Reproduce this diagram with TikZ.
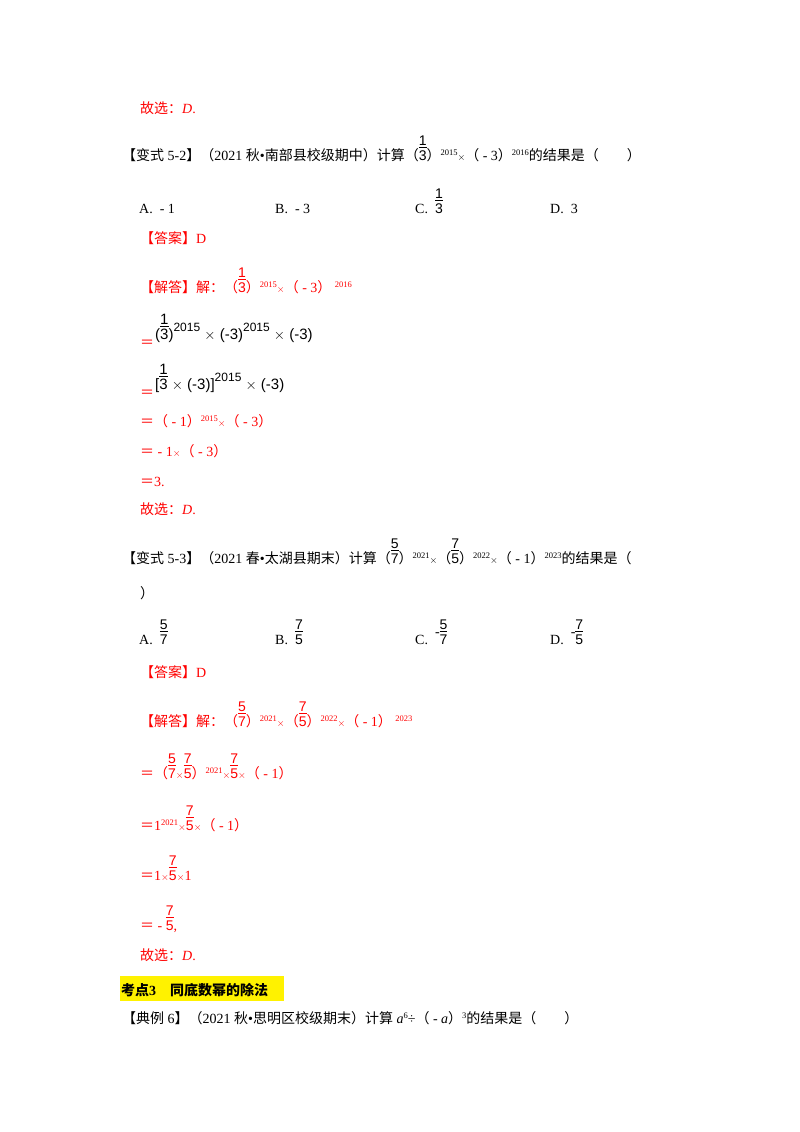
\documentclass[tikz,border=0pt]{standalone}
\usepackage{amsmath}
\usepackage{fontspec}
\setmainfont{Liberation Serif}
\newfontfamily\cjk{Noto Sans CJK SC}
\newfontfamily\ar{Liberation Sans}
\newcommand\C[1]{{\cjk #1}}
\newcommand\fr[2]{\begin{tabular}[b]{@{}c@{}}{\ar #1}\\[-3pt]\hline\noalign{\vskip1pt}{\ar #2}\end{tabular}}
\newcommand\su[1]{\raisebox{5pt}{\fontsize{8.5}{9}\selectfont #1}}
\newcommand\tm{\raisebox{0pt}{\fontsize{10}{10}\selectfont$\times$}}
\newcommand\bsu[1]{\raisebox{8pt}{\fontsize{12}{12}\selectfont #1}}
\begin{document}
\begin{tikzpicture}[x=1pt,y=-1pt,
  ln/.style={anchor=base west,inner sep=0pt,font=\fontsize{14}{16}\selectfont},
  rd/.style={ln,text=red},
  ms/.style={ln,font=\ar\fontsize{15}{16}\selectfont}]
\useasboundingbox (0,0) rectangle (800,1132);
\node[rd] (a1) at (140,113) {\C{故选：}\textit{D}.};
\node[ln] (q2) at (122,160) {\C{【变式} 5-2\C{】（}2021 \C{秋}•\C{南部县校级期中）计算（}\fr13\C{）}\su{2015}\tm\C{（} - 3\C{）}\su{2016}\C{的结果是（\quad\quad）}};
\node[ln] (o2a) at (139,213) {A.\enspace - 1};
\node[ln] (o2b) at (275,213) {B.\enspace - 3};
\node[ln] (o2c) at (415,213) {C.\enspace\fr13};
\node[ln] (o2d) at (550,213) {D.\enspace 3};
\node[rd] (ans2) at (140,243) {\C{【答案】}D};
\node[rd] (sol2) at (140,292) {\C{【解答】解：（}\fr13\C{）}\su{2015}\tm\C{（} - 3\C{）} \su{2016}};
\node[rd] (e1) at (140,347) {\C{＝}};
\node[ms] (m1) at (155,339) {(\fr13)\bsu{2015} $\times$ (-3)\bsu{2015} $\times$ (-3)};
\node[rd] (e2) at (140,397) {\C{＝}};
\node[ms] (m2) at (155,389) {[\fr13 $\times$ (-3)]\bsu{2015} $\times$ (-3)};
\node[rd] (e3) at (140,426) {\C{＝（} - 1\C{）}\su{2015}\tm\C{（} - 3\C{）}};
\node[rd] (e4) at (140,456) {\C{＝} - 1\tm\C{（} - 3\C{）}};
\node[rd] (e5) at (140,486) {\C{＝}3.};
\node[rd] (a2) at (140,514) {\C{故选：}\textit{D}.};
\node[ln] (q3) at (122,563) {\C{【变式} 5-3\C{】（}2021 \C{春}•\C{太湖县期末）计算（}\fr57\C{）}\su{2021}\tm\C{（}\fr75\C{）}\su{2022}\tm\C{（} - 1\C{）}\su{2023}\C{的结果是（}};
\node[ln] (q3b) at (140,598) {\C{）}};
\node[ln] (o3a) at (139,644) {A.\enspace\fr57};
\node[ln] (o3b) at (275,644) {B.\enspace\fr75};
\node[ln] (o3c) at (415,644) {C.\enspace\raisebox{8pt}{-}\fr57};
\node[ln] (o3d) at (550,644) {D.\enspace\raisebox{8pt}{-}\fr75};
\node[rd] (ans3) at (140,677) {\C{【答案】}D};
\node[rd] (sol3) at (140,726) {\C{【解答】解：（}\fr57\C{）}\su{2021}\tm\C{（}\fr75\C{）}\su{2022}\tm\C{（} - 1\C{）} \su{2023}};
\node[rd] (f1) at (140,778) {\C{＝（}\fr57\tm\fr75\C{）}\su{2021}\tm\fr75\tm\C{（} - 1\C{）}};
\node[rd] (f2) at (140,830) {\C{＝}1\su{2021}\tm\fr75\tm\C{（} - 1\C{）}};
\node[rd] (f3) at (140,880) {\C{＝}1\tm\fr75\tm1};
\node[rd] (f4) at (140,930) {\C{＝} - \fr75,};
\node[rd] (a3) at (140,960) {\C{故选：}\textit{D}.};
\fill[yellow] (120,976) rectangle (284,1001);
\node[ln,font=\bfseries\fontsize{14}{16}\selectfont] (kd) at (121,995) {{\cjk\bfseries 考点}3\quad{\cjk\bfseries 同底数幂的除法}};
\node[ln] (q6) at (122,1023) {\C{【典例} 6\C{】（}2021 \C{秋}•\C{思明区校级期末）计算} \textit{a}\su{6}÷\C{（} - \textit{a}\C{）}\su{3}\C{的结果是（\quad\quad）}};
\end{tikzpicture}
\end{document}
